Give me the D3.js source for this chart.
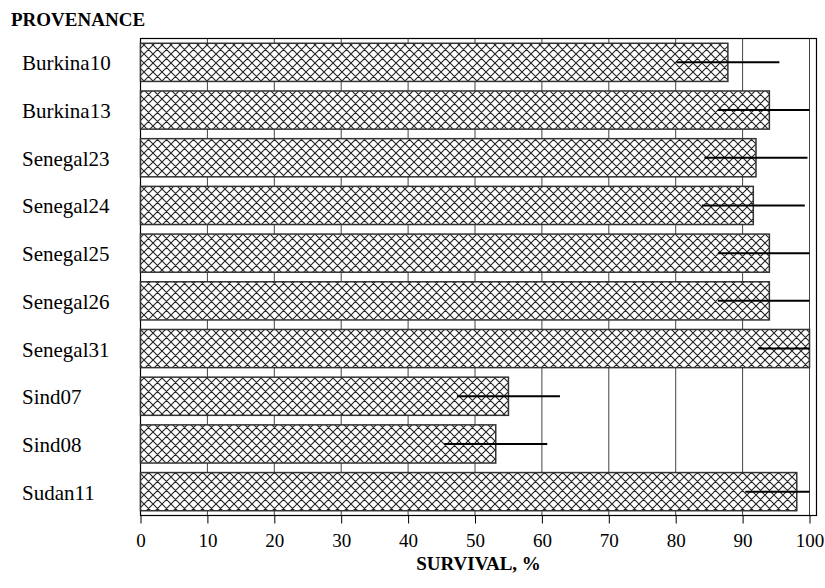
<!DOCTYPE html>
<html><head><meta charset="utf-8">
<script src="https://cdn.jsdelivr.net/npm/d3@7/dist/d3.min.js"></script>
<style>body{margin:0;background:#fff}svg{display:block}text{font-family:"Liberation Serif","Times New Roman",serif;fill:#000}</style>
</head><body>
<script>
const categories = ["Burkina10","Burkina13","Senegal23","Senegal24","Senegal25","Senegal26","Senegal31","Sind07","Sind08","Sudan11"];
const survival = [87.8, 94.0, 92.0, 91.6, 94.0, 94.0, 100.0, 55.0, 53.1, 98.1];
const errorHalf = [7.7, 7.7, 7.7, 7.7, 7.7, 7.7, 7.7, 7.7, 7.7, 7.7];
const xTicks = [0,10,20,30,40,50,60,70,80,90,100];
const yTitle = "PROVENANCE";
const xTitle = "SURVIVAL, %";

(function(){
const W = 825, H = 588;
const svg = d3.select("body").append("svg").attr("width", W).attr("height", H);

const pL = 140.5, pR = 816.5, pT = 38.5, pB = 515.5;
const x = d3.scaleLinear().domain([0,100]).range([pL, 809.5]);
const y = d3.scaleBand().domain(categories).range([pT, pB]).paddingInner(0.2).paddingOuter(0.1);

const defs = svg.append("defs");
const pat = defs.append("pattern").attr("id","hatch").attr("patternUnits","userSpaceOnUse")
  .attr("width",9).attr("height",9);
pat.append("rect").attr("width",9).attr("height",9).attr("fill","#fff");
pat.append("path").attr("d","M0,0L9,9M-1,8L1,10M8,-1L10,1M0,9L9,0M-1,1L1,-1M8,10L10,8")
  .attr("stroke","#222").attr("stroke-width",1.1);

// grid lines
svg.append("g").selectAll("line").data(xTicks.filter(d=>d>0)).join("line")
  .attr("x1",d=>x(d)).attr("x2",d=>x(d)).attr("y1",pT).attr("y2",pB)
  .attr("stroke","#444").attr("stroke-width",1);

// frame
svg.append("rect").attr("x",pL).attr("y",pT).attr("width",pR-pL).attr("height",pB-pT)
  .attr("fill","none").attr("stroke","#000").attr("stroke-width",1.2);

// bars
svg.append("g").selectAll("rect").data(categories).join("rect")
  .attr("x",x(0)).attr("y",d=>y(d))
  .attr("width",(d,i)=>x(survival[i])-x(0)).attr("height",y.bandwidth())
  .attr("fill","url(#hatch)").attr("stroke","#333").attr("stroke-width",1.5);

// error bars
svg.append("g").selectAll("line").data(categories).join("line")
  .attr("x1",(d,i)=>x(Math.max(0,survival[i]-errorHalf[i])))
  .attr("x2",(d,i)=>x(Math.min(100,survival[i]+errorHalf[i])))
  .attr("y1",d=>y(d)+y.bandwidth()/2).attr("y2",d=>y(d)+y.bandwidth()/2)
  .attr("stroke","#000").attr("stroke-width",2);

// x axis
const xAxis = d3.axisBottom(x).tickValues(xTicks).tickSize(8).tickPadding(10).tickFormat(d3.format("d"));
const gx = svg.append("g").attr("transform",`translate(0,${pB})`).call(xAxis)
  .attr("font-family","'Liberation Serif',serif").attr("font-size",19);
gx.select(".domain").remove();
gx.selectAll(".tick line").attr("stroke","#000");
gx.selectAll(".tick text").attr("fill","#000");

// y labels
svg.append("g").selectAll("text").data(categories).join("text")
  .attr("x",22).attr("y",d=>y(d)+y.bandwidth()/2+8)
  .style("font-size","21px").text(d=>d);

svg.append("text").attr("x",11).attr("y",26).style("font-size","19px").style("font-weight","bold").text(yTitle);
svg.append("text").attr("x",(pL+pR)/2).attr("y",570).attr("text-anchor","middle")
  .style("font-size","19px").style("font-weight","bold").text(xTitle);
})();
</script>
</body></html>
